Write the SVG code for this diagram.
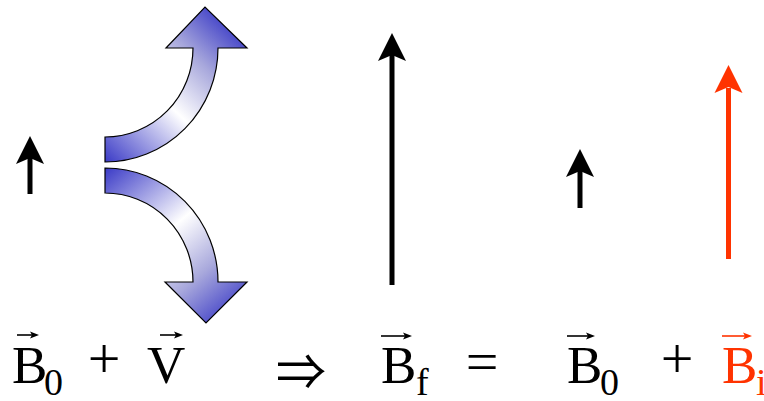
<svg xmlns="http://www.w3.org/2000/svg" xmlns:xlink="http://www.w3.org/1999/xlink" width="764" height="401" viewBox="0 0 764 401">
<style>
.t{font-family:"Liberation Serif","Times New Roman","DejaVu Serif",serif;font-size:53px;fill:#000}
.s{font-size:38px}
.p{font-size:58px}
.red{fill:#ff3300}
.shaft{stroke:#000;stroke-width:5;fill:none}
.shaft.r{stroke:#ff3300}
.blue{stroke:#000;stroke-width:1.2}
.vec{stroke:#000;stroke-width:1.6;fill:none}
.vec.r{stroke:#ff3300}
</style>
<defs>
<path id="head" d="M0,0 L14,28 L0,22 L-14,28 Z"/>
<path id="vh" d="M0,0 L-9,-3.5 L-7,0 L-9,3.5 Z"/>
<linearGradient id="gUp" gradientUnits="userSpaceOnUse" x1="105" y1="165" x2="240" y2="25">
<stop offset="0" stop-color="#3535c5"/>
<stop offset="0.45" stop-color="#ffffff"/>
<stop offset="0.72" stop-color="#a8a8dc"/>
<stop offset="1" stop-color="#3535c5"/>
</linearGradient>
<linearGradient id="gDn" gradientUnits="userSpaceOnUse" x1="105" y1="165" x2="235" y2="320">
<stop offset="0" stop-color="#3535c5"/>
<stop offset="0.45" stop-color="#ffffff"/>
<stop offset="0.72" stop-color="#a8a8dc"/>
<stop offset="1" stop-color="#3535c5"/>
</linearGradient>
</defs>

<g id="connectors">
<g id="b0-left">
<line class="shaft" x1="30" y1="158" x2="30" y2="194"/>
<use xlink:href="#head" x="30" y="136"/>
</g>
<g id="v-up">
<path class="blue" fill="url(#gUp)" d="M105,137 A88,89 0 0 0 193,48 L166,48 L205,7 L247,48 L218,48 A113,114 0 0 1 105,162 Z"/>
</g>
<g id="v-down">
<path class="blue" fill="url(#gDn)" d="M105,168 A113,114 0 0 1 218,282 L247,282 L206,323 L165,282 L193,282 A88,89 0 0 0 105,193 Z"/>
</g>
<g id="bf">
<line class="shaft" x1="392" y1="55" x2="392" y2="285"/>
<use xlink:href="#head" x="392" y="33"/>
</g>
<g id="b0-right">
<line class="shaft" x1="580" y1="170" x2="580" y2="208"/>
<use xlink:href="#head" x="580" y="149"/>
</g>
<g id="bi">
<line class="shaft r" x1="728.5" y1="88" x2="728.5" y2="259"/>
<use xlink:href="#head" x="728.5" y="65" fill="#ff3300"/>
</g>
</g>

<g id="equation">
<g id="lbl-b0">
<line class="vec" x1="17" y1="335" x2="36" y2="335"/>
<use xlink:href="#vh" x="39" y="335"/>
<text class="t" x="12" y="383">B</text>
<text class="t s" x="44" y="395">0</text>
</g>
<text class="t p" x="104" y="378" text-anchor="middle">+</text>
<g id="lbl-v">
<line class="vec" x1="160" y1="335" x2="180" y2="335"/>
<use xlink:href="#vh" x="183" y="335"/>
<text class="t" x="147" y="383">V</text>
</g>
<text x="301" y="390" text-anchor="middle" style="font-family:'Noto Sans CJK JP','DejaVu Serif',sans-serif;font-size:50px">⇒</text>
<g id="lbl-bf">
<line class="vec" x1="381" y1="336" x2="409" y2="336"/>
<use xlink:href="#vh" x="412" y="336"/>
<text class="t" x="381" y="383">B</text>
<text class="t s" x="416" y="395">f</text>
</g>
<text class="t p" x="482" y="381" text-anchor="middle">=</text>
<g id="lbl-b0b">
<line class="vec" x1="567" y1="336" x2="592" y2="336"/>
<use xlink:href="#vh" x="595" y="336"/>
<text class="t" x="567" y="383">B</text>
<text class="t s" x="600" y="395">0</text>
</g>
<text class="t p" x="677" y="378" text-anchor="middle">+</text>
<g id="lbl-bi">
<line class="vec r" x1="722" y1="336" x2="749" y2="336"/>
<use xlink:href="#vh" x="752" y="336" fill="#ff3300"/>
<text class="t red" x="722" y="383">B</text>
<text class="t s red" x="756" y="395">i</text>
</g>
</g>
</svg>
